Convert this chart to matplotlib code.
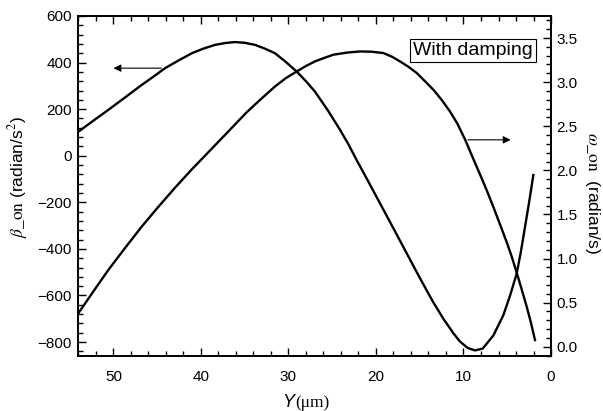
import numpy as np
import matplotlib
matplotlib.use("Agg")
import matplotlib.pyplot as plt
from matplotlib.ticker import MultipleLocator, FormatStrFormatter

plt.rcParams['font.family'] = ['Liberation Sans', 'DejaVu Sans']
plt.rcParams['mathtext.fontset'] = 'stix'

# Winkelbeschleunigung beta_on ueber Y (linke Achse)
y_beta = [54.0, 52.3, 50.57, 48.6, 46.76, 45.4, 44.09, 42.5, 41.04, 39.7,
          38.38, 37.2, 36.10, 35.0, 33.82, 32.7, 31.53, 30.3, 29.05, 28.0,
          26.96, 25.5, 24.10, 23.1, 22.2, 21.1, 20.0, 19.0, 17.25, 15.34,
          14.4, 13.44, 12.3, 11.16, 10.4, 9.5, 8.68, 7.8, 6.59, 5.45,
          4.7, 3.92, 3.45, 2.97, 2.5, 2.02]
beta_on = [103, 150, 197, 252, 304, 340, 376, 410, 440, 460,
           476, 484, 488, 485, 476, 460, 440, 403, 361, 320,
           275, 195, 111, 46, -19, -95, -172, -242, -365, -500,
           -565, -630, -700, -762, -798, -826, -836, -828, -772, -685,
           -603, -506, -414, -305, -199, -83]

# Winkelgeschwindigkeit omega_on ueber Y (rechte Achse)
y_omega = [54.0, 52.3, 50.57, 48.7, 46.76, 45.0, 43.0, 41.0, 39.15, 37.6,
           36.10, 34.8, 33.44, 31.53, 30.3, 29.05, 28.0, 26.96, 25.9, 24.87,
           23.3, 21.82, 20.5, 19.16, 18.2, 17.25, 16.3, 15.34, 14.4, 13.44,
           12.5, 11.54, 10.7, 9.82, 8.88, 7.9, 7.35, 6.59, 5.8, 5.06,
           4.5, 3.92, 3.35, 2.78, 2.3, 1.83]
omega_on = [0.379, 0.625, 0.871, 1.115, 1.362, 1.57, 1.798, 2.015, 2.205, 2.365,
            2.52, 2.655, 2.781, 2.951, 3.045, 3.121, 3.183, 3.235, 3.275, 3.311,
            3.335, 3.348, 3.345, 3.330, 3.29, 3.235, 3.175, 3.103, 3.01, 2.914,
            2.80, 2.667, 2.53, 2.35, 2.13, 1.905, 1.775, 1.585, 1.38, 1.185,
            1.025, 0.84, 0.65, 0.455, 0.275, 0.076]

fig = plt.figure(figsize=(6.03, 4.11), dpi=100)
ax = fig.add_axes([0.1299, 0.1338, 0.7839, 0.8273])
ax2 = ax.twinx()

ax.plot(y_beta, beta_on, color='black', lw=1.7, solid_joinstyle='round')
ax2.plot(y_omega, omega_on, color='black', lw=1.7, solid_joinstyle='round')

ax.set_xlim(54, 0)
ax.set_ylim(-860, 600)
ax2.set_ylim(-0.105, 3.75)

ax.xaxis.set_major_locator(MultipleLocator(10))
ax.xaxis.set_minor_locator(MultipleLocator(2))
ax.yaxis.set_major_locator(MultipleLocator(200))
ax.yaxis.set_minor_locator(MultipleLocator(40))
ax2.yaxis.set_major_locator(MultipleLocator(0.5))
ax2.yaxis.set_minor_locator(MultipleLocator(0.1))
ax2.yaxis.set_major_formatter(FormatStrFormatter('%.1f'))

ax.tick_params(axis='both', which='both', direction='in', top=True, right=False,
               labelsize=11, width=1.0)
ax.tick_params(which='major', length=6)
ax.tick_params(which='minor', length=3.5)
ax.tick_params(axis='x', pad=10)
ax.tick_params(axis='y', pad=4.5)
ax2.tick_params(axis='y', which='both', direction='in', labelsize=11, width=1.0, pad=4)
ax2.tick_params(which='major', length=6)
ax2.tick_params(which='minor', length=3.5)

for a in (ax, ax2):
    for s in a.spines.values():
        s.set_linewidth(1.3)

# Achsenbeschriftungen
fig.text(0.030, 0.57, r'$\beta\_\mathrm{on}$ (radian/s$^{2}$)', rotation=90,
         ha='center', va='center', fontsize=12.5)
fig.text(0.982, 0.53, r'$\omega\_\mathrm{on}$  (radian/s)', rotation=270,
         ha='center', va='center', fontsize=12.5)
fig.text(0.477, 0.02, 'Y', style='italic', ha='center', va='center', fontsize=13)
fig.text(0.518, 0.02, '(μm)', family='Liberation Serif', ha='center', va='center',
         fontsize=12.5)

# Pfeile zur Zuordnung der Kurven
ax.annotate('', xy=(50.3, 376), xytext=(44.2, 376),
            arrowprops=dict(arrowstyle='-|>', color='black', lw=0.8, mutation_scale=11))
ax2.annotate('', xy=(4.3, 2.346), xytext=(9.8, 2.346),
             arrowprops=dict(arrowstyle='-|>', color='black', lw=0.8, mutation_scale=11))

ax.text(0.834, 0.8985, 'With damping', transform=ax.transAxes, ha='center', va='center',
        fontsize=14, bbox=dict(boxstyle='square,pad=0.16', fc='white', ec='black', lw=0.8))

fig.savefig('out.png', dpi=100)
